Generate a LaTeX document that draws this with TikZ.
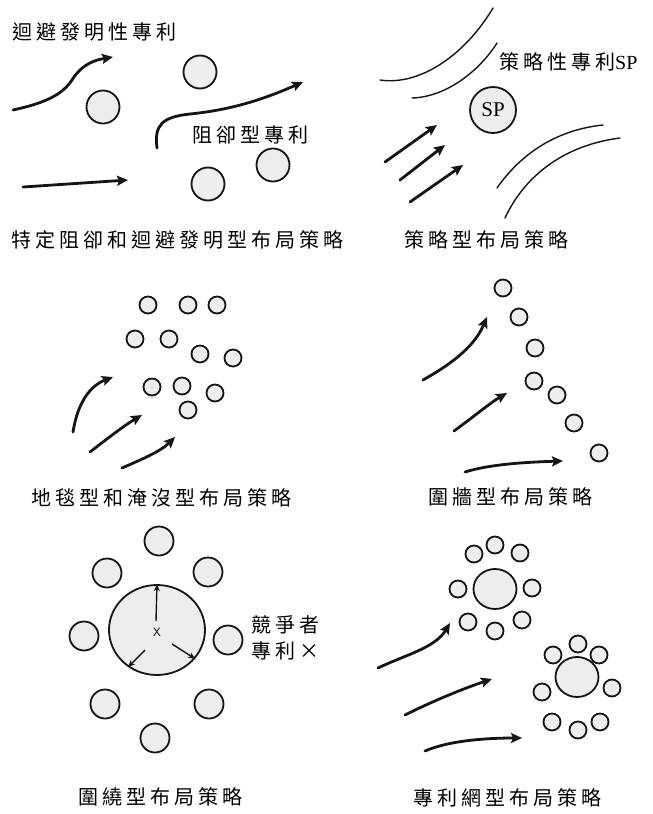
\documentclass[tikz,border=0pt]{standalone}
\usepackage{fontspec}
\setmainfont{Liberation Serif}
\newfontfamily\cjk[LetterSpace=20]{Noto Sans CJK TC}
\usetikzlibrary{arrows.meta,shapes.geometric,calc}
\definecolor{InkDark}{HTML}{151515}
\definecolor{FillGray}{HTML}{EDEDED}

\begin{document}
\begin{tikzpicture}[
  x=1pt, y=-1pt,
  dot/.style={circle, draw=InkDark, line width=1.8pt, fill=FillGray, inner sep=0pt, minimum size=#1},
  dot/.default=17pt,
  hub/.style={ellipse, draw=InkDark, line width=1.8pt, fill=FillGray, inner sep=0pt},
  flow/.style={-{Stealth[length=11pt,width=10pt,inset=2pt]}, line width=2.8pt, draw=InkDark, line cap=round},
  push/.style={-{Stealth[length=7pt,width=6pt]}, line width=1.4pt, draw=InkDark},
  fence/.style={line width=1.4pt, draw=InkDark, line cap=round},
  note/.style={font=\cjk\fontsize{20}{26}\selectfont, inner sep=0pt, anchor=west},
  heading/.style={note}
]
  \useasboundingbox (0,0) rectangle (653,814);

  % avoidance and blocking
  \node[note] (avoidtxt) at (12,32) {迴避發明性專利};
  \node[note] (blocktxt) at (192,135) {阻卻型專利};
  \node[dot=33pt] (b1) at (200,72) {};
  \node[dot=33pt] (b2) at (103,107) {};
  \node[dot=33pt] (b3) at (273,165) {};
  \node[dot=33pt] (b4) at (208,184) {};
  \draw[flow] (13,110) .. controls (45,103) and (62,95) .. (72,80) .. controls (82,64) and (95,60) .. (113,57);
  \draw[flow] (157,148) .. controls (154,125) and (162,117) .. (190,114) .. controls (230,110) and (262,100) .. (303,82);
  \draw[flow] (23,187) -- (128,180);
  \node[heading] (cap1) at (11,240) {特定阻卻和迴避發明型布局策略};

  % strategic
  \node[note] (sptxt) at (499,62) {策略性專利{\rmfamily SP}};
  \node[dot=46pt, font=\fontsize{21}{22}\selectfont] (sp) at (493,110) {SP};
  \draw[fence] (380,80) .. controls (420,86) and (465,55) .. (493,8);
  \draw[fence] (412,98) .. controls (447,97) and (480,70) .. (497,43);
  \draw[fence] (497,188) .. controls (520,155) and (555,130) .. (603,125);
  \draw[fence] (505,218) .. controls (525,175) and (565,145) .. (620,138);
  \draw[flow] (385,162) -- (437,125);
  \draw[flow] (400,180) -- (445,145);
  \draw[flow] (410,202) -- (463,165);
  \node[heading] (cap2) at (404,240) {策略型布局策略};

  % carpet and flooding
  \foreach \p [count=\k] in {(148,305),(188,305),(217,305),(135,339),(169,339),(200,354),
      (233,358),(152,387),(182,386),(215,393),(188,410)}
    \node[dot] (m\k) at \p {};
  \draw[flow] (73,432) .. controls (78,400) and (92,385) .. (113,377);
  \draw[flow] (90,452) .. controls (108,438) and (125,425) .. (142,415);
  \draw[flow] (122,468) .. controls (140,460) and (160,452) .. (175,437);
  \node[heading] (cap3) at (31,498) {地毯型和淹沒型布局策略};

  % fence
  \foreach \p [count=\k] in {(503,288),(519,317),(535,348),(534,381),(557,395),(574,423),(599,453)}
    \node[dot] (w\k) at \p {};
  \draw[flow] (423,380) .. controls (455,362) and (475,345) .. (487,317);
  \draw[flow] (454,431) .. controls (472,418) and (490,403) .. (507,393);
  \draw[flow] (465,472) .. controls (490,464) and (530,462) .. (563,461);
  \node[heading] (cap4) at (428,497) {圍牆型布局策略};

  % surrounding
  \node[hub, minimum width=96pt, minimum height=90pt] (rival) at (157,630) {};
  \node[font=\sffamily\fontsize{12}{12}\selectfont, inner sep=1pt] (xmark) at (157,632) {X};
  \draw[push] ($(xmark)+(-1,-11)$) -- (rival.north);
  \draw[push] ($(xmark)+(-12,18)$) -- (rival.232);
  \draw[push] ($(xmark)+(15,12)$) -- (rival.-37);
  \foreach \p [count=\k] in {(159,541),(107,573),(208,572),(84,636),(228,640),(105,704),(209,704),(155,738)}
    \node[dot=29pt] (s\k) at \p {};
  \node[note, align=left] (rivaltxt) at (251,638) {競爭者\\專利×};
  \node[heading] (cap5) at (78,797) {圍繞型布局策略};

  % network
  \node[hub, minimum width=43pt, minimum height=40pt] (hubA) at (495,589) {};
  \node[hub, minimum width=43pt, minimum height=40pt] (hubB) at (577,677) {};
  \foreach \p [count=\k] in {(495,545),(474,554),(520,553),(458,589),(532,588),(468,622),(495,631),(522,620)}
    \node[dot] (na\k) at \p {};
  \foreach \p [count=\k] in {(578,644),(553,655),(599,655),(542,692),(612,688),(552,722),(578,730),(600,722)}
    \node[dot] (nb\k) at \p {};
  \draw[flow] (378,668) .. controls (405,655) and (435,648) .. (450,623);
  \draw[flow] (405,715) .. controls (435,700) and (465,688) .. (492,679);
  \draw[flow] (425,751) .. controls (450,740) and (490,738) .. (522,738);
  \node[heading] (cap6) at (413,798) {專利網型布局策略};
\end{tikzpicture}
\end{document}
